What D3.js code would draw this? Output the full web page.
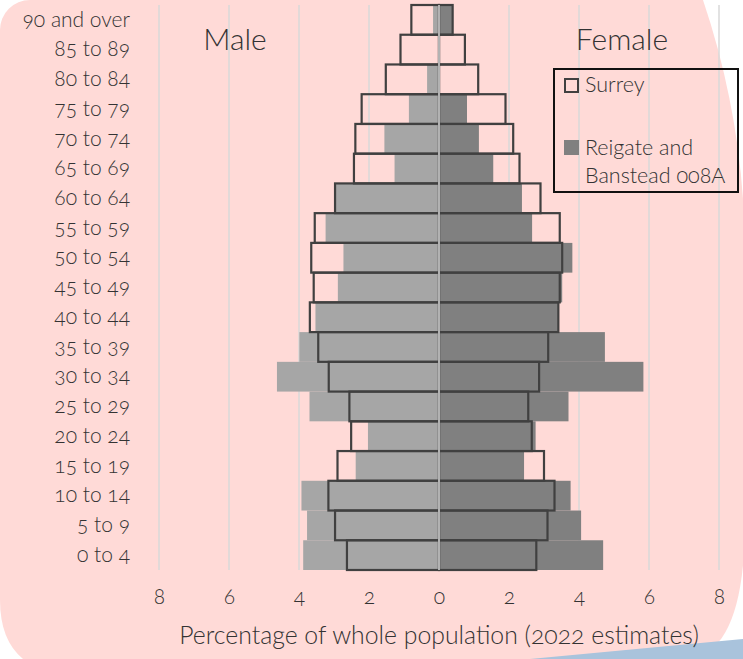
<!DOCTYPE html>
<html>
<head>
<meta charset="utf-8">
<script src="https://cdn.jsdelivr.net/npm/d3@7"></script>
<style>
  body { margin: 0; background: #fff; }
  #myPlot { width: 743px; height: 659px; }
  text { font-family: Lato, "Open Sans", sans-serif; font-weight: 300; fill: #333; font-variant-numeric: oldstyle-nums; }
</style>
</head>
<body>
<div id="myPlot"></div>
<script>
const ages = ["0 to 4", "5 to 9", "10 to 14", "15 to 19", "20 to 24", "25 to 29", "30 to 34",
    "35 to 39", "40 to 44", "45 to 49", "50 to 54", "55 to 59", "60 to 64", "65 to 69",
    "70 to 74", "75 to 79", "80 to 84", "85 to 89", "90 and over"]

// percentages, youngest group first
const reigateMale = [3.88, 3.77, 3.93, 2.38, 2.03, 3.70, 4.63, 3.99, 3.53, 2.89, 2.73, 3.24, 2.95, 1.27, 1.56, 0.86, 0.34, 0, 0.17]
const surreyMale = [2.63, 2.97, 3.16, 2.90, 2.51, 2.56, 3.15, 3.45, 3.69, 3.58, 3.65, 3.55, 2.97, 2.43, 2.39, 2.21, 1.52, 1.10, 0.79]
const reigateFemale = [4.69, 4.06, 3.76, 2.43, 2.76, 3.70, 5.84, 4.74, 3.40, 3.52, 3.81, 2.66, 2.37, 1.55, 1.14, 0.80, 0, 0, 0.40]
const surreyFemale = [2.78, 3.10, 3.30, 3.00, 2.65, 2.55, 2.86, 3.12, 3.41, 3.45, 3.52, 3.45, 2.90, 2.30, 2.12, 1.90, 1.12, 0.74, 0.39]

const tickValues = [-8, -6, -4, -2, 0, 2, 4, 6, 8]
const axisTitle = "Percentage of whole population (2022 estimates)"

const svg = d3.select("#myPlot").append("svg")
    .attr("width", 743)
    .attr("height", 659)

// pink rounded background
svg.append("path")
    .attr("d", "M30,0 L703,0 A800,800 0 0 1 745,250 L745,520 Q745,650 690,659 L23,659 Q0,640 0,600 L0,30 A30,30 0 0 1 30,0 Z")
    .attr("fill", "#ffdad7")

svg.append("path")
    .attr("d", "M530,659 L743,639 L743,659 Z")
    .attr("fill", "#a9c3dc")

const xScale = d3.scaleLinear()
    .domain([-8, 8])
    .range([159, 719])

const yScale = d3.scaleBand()
    .domain(ages.slice().reverse())
    .range([5, 570])
    .padding(0)

const plotTop = yScale.range()[0]
const plotBottom = yScale.range()[1]

// gridlines
svg.append("g").selectAll("line")
    .data(tickValues.filter(d => d !== 0))
    .enter().append("line")
    .attr("x1", d => xScale(d))
    .attr("x2", d => xScale(d))
    .attr("y1", plotTop)
    .attr("y2", plotBottom)
    .attr("stroke", "#d9d9d9")
    .attr("stroke-width", 1.5)

const rows = ages.map((age, i) => ({
    age,
    rm: reigateMale[i], sm: surreyMale[i],
    rf: reigateFemale[i], sf: surreyFemale[i]
}))

const bars = svg.append("g")

bars.selectAll(".rm")
    .data(rows)
    .enter().append("rect")
    .attr("x", d => xScale(-d.rm))
    .attr("y", d => yScale(d.age))
    .attr("width", d => xScale(0) - xScale(-d.rm))
    .attr("height", yScale.bandwidth())
    .attr("fill", "#a6a6a6")

bars.selectAll(".rf")
    .data(rows)
    .enter().append("rect")
    .attr("x", xScale(0))
    .attr("y", d => yScale(d.age))
    .attr("width", d => xScale(d.rf) - xScale(0))
    .attr("height", yScale.bandwidth())
    .attr("fill", "#808080")

bars.selectAll(".sm")
    .data(rows)
    .enter().append("rect")
    .attr("x", d => xScale(-d.sm))
    .attr("y", d => yScale(d.age))
    .attr("width", d => xScale(0) - xScale(-d.sm))
    .attr("height", yScale.bandwidth())
    .attr("fill", "none")
    .attr("stroke", "#404040")
    .attr("stroke-width", 2.2)

bars.selectAll(".sf")
    .data(rows)
    .enter().append("rect")
    .attr("x", xScale(0))
    .attr("y", d => yScale(d.age))
    .attr("width", d => xScale(d.sf) - xScale(0))
    .attr("height", yScale.bandwidth())
    .attr("fill", "none")
    .attr("stroke", "#404040")
    .attr("stroke-width", 2.2)

// zero line
svg.append("line")
    .attr("x1", xScale(0))
    .attr("x2", xScale(0))
    .attr("y1", plotTop)
    .attr("y2", plotBottom)
    .attr("stroke", "#d9d9d9")
    .attr("stroke-width", 1.5)

// category labels
const yAxis = d3.axisLeft(yScale).tickSize(0).tickPadding(0)
const yAxisG = svg.append("g")
    .attr("transform", "translate(130,0)")
    .call(yAxis)
yAxisG.select(".domain").remove()
yAxisG.attr("font-family", null).attr("font-size", null)
yAxisG.selectAll("text")
    .attr("font-size", 21)
    .attr("fill", null)

// value axis
const xAxis = d3.axisBottom(xScale)
    .tickValues(tickValues)
    .tickFormat(d => Math.abs(d))
    .tickSize(0)
    .tickPadding(0)
const xAxisG = svg.append("g")
    .attr("transform", "translate(0,589)")
    .call(xAxis)
xAxisG.select(".domain").remove()
xAxisG.attr("font-family", null).attr("font-size", null)
xAxisG.selectAll("text")
    .attr("font-size", 21)
    .attr("fill", null)

svg.append("text")
    .attr("x", xScale(0))
    .attr("y", 644)
    .attr("text-anchor", "middle")
    .attr("font-size", 24.8)
    .text(axisTitle)

svg.append("text")
    .attr("x", 235)
    .attr("y", 50)
    .attr("text-anchor", "middle")
    .attr("font-size", 30)
    .text("Male")

svg.append("text")
    .attr("x", 622)
    .attr("y", 50)
    .attr("text-anchor", "middle")
    .attr("font-size", 30)
    .text("Female")

// legend
const legend = svg.append("g")
legend.append("rect")
    .attr("x", 554)
    .attr("y", 69)
    .attr("width", 184)
    .attr("height", 123)
    .attr("fill", "none")
    .attr("stroke", "#111")
    .attr("stroke-width", 2)

legend.append("rect")
    .attr("x", 565)
    .attr("y", 79)
    .attr("width", 13)
    .attr("height", 13)
    .attr("fill", "none")
    .attr("stroke", "#404040")
    .attr("stroke-width", 2)
legend.append("text")
    .attr("x", 585)
    .attr("y", 92)
    .attr("font-size", 21.5)
    .text("Surrey")

legend.append("rect")
    .attr("x", 564)
    .attr("y", 140)
    .attr("width", 15)
    .attr("height", 15)
    .attr("fill", "#808080")
legend.append("text")
    .attr("x", 585)
    .attr("y", 155)
    .attr("font-size", 21.5)
    .text("Reigate and")
legend.append("text")
    .attr("x", 585)
    .attr("y", 183)
    .attr("font-size", 21.5)
    .text("Banstead 008A")
</script>
</body>
</html>
